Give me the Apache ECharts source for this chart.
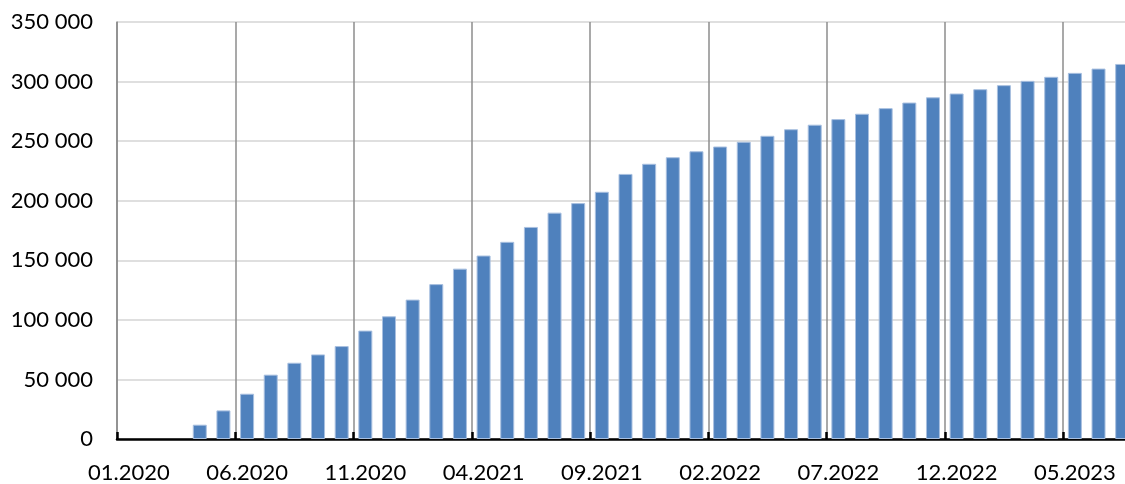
<!DOCTYPE html>
<html>
<head>
<meta charset="utf-8">
<script src="https://cdn.jsdelivr.net/npm/echarts@6/dist/echarts.min.js"></script>
<style>
  html, body { margin: 0; padding: 0; background: #fff; overflow: hidden; }
  /* a little wider than the window: the last bar is cut at the right edge */
  #chart { width: 1134px; height: 484px; }
</style>
</head>
<body>
<div id="chart"></div>
<script>
// months 01.2020 .. 07.2023
const months = [
  '01.2020', '02.2020', '03.2020', '04.2020', '05.2020', '06.2020', '07.2020', '08.2020', '09.2020', '10.2020', '11.2020', '12.2020',
  '01.2021', '02.2021', '03.2021', '04.2021', '05.2021', '06.2021', '07.2021', '08.2021', '09.2021', '10.2021', '11.2021', '12.2021',
  '01.2022', '02.2022', '03.2022', '04.2022', '05.2022', '06.2022', '07.2022', '08.2022', '09.2022', '10.2022', '11.2022', '12.2022',
  '01.2023', '02.2023', '03.2023', '04.2023', '05.2023', '06.2023', '07.2023'
];

const values = [
  null, null, null, 12000, 24000, 38000, 54000, 64000, 71000, 78000, 91000, 103000,
  117000, 130000, 143000, 154000, 165500, 178000, 190000, 198000, 207500, 222500, 231000, 236500,
  241500, 245500, 249500, 254500, 260000, 263800, 268500, 273000, 277700, 282400, 286800, 290000,
  293600, 297000, 300600, 304000, 307300, 310900, 314800
];

const yTicks = { min: 0, max: 350000, interval: 50000 };

const fmtThousands = (v) => String(v).replace(/\B(?=(\d{3})+(?!\d))/g, ' ');

const chart = echarts.init(document.getElementById('chart'));

chart.setOption({
  animation: false,
  textStyle: { fontFamily: 'Lato, "Open Sans", sans-serif' },
  grid: {
    left: 117,
    top: 22,
    bottom: 44,
    right: 0
  },
  xAxis: {
    type: 'category',
    data: months,
    boundaryGap: true,
    axisLine: { show: true, lineStyle: { color: '#000', width: 2.5 } },
    axisTick: {
      show: true,
      inside: true,
      interval: 4,
      length: 7,
      lineStyle: { color: '#000', width: 2.5 }
    },
    axisLabel: {
      interval: 4,
      margin: 23,
      color: '#000',
      fontSize: 22
    },
    splitLine: {
      show: true,
      interval: 4,
      lineStyle: { color: '#8c8c8c', width: 1.5 }
    }
  },
  yAxis: {
    type: 'value',
    min: yTicks.min,
    max: yTicks.max,
    interval: yTicks.interval,
    axisLine: { show: true, lineStyle: { color: '#8c8c8c', width: 1.5 } },
    axisTick: { show: false },
    axisLabel: {
      margin: 24,
      color: '#000',
      fontSize: 22,
      formatter: fmtThousands
    },
    splitLine: { lineStyle: { color: '#d4d4d4', width: 1.5 } }
  },
  series: [{
    type: 'bar',
    data: values,
    barWidth: 14,
    itemStyle: {
      color: '#4f81bd',
      borderColor: '#a9c0e0',
      borderWidth: 1
    }
  }]
});
</script>
</body>
</html>
